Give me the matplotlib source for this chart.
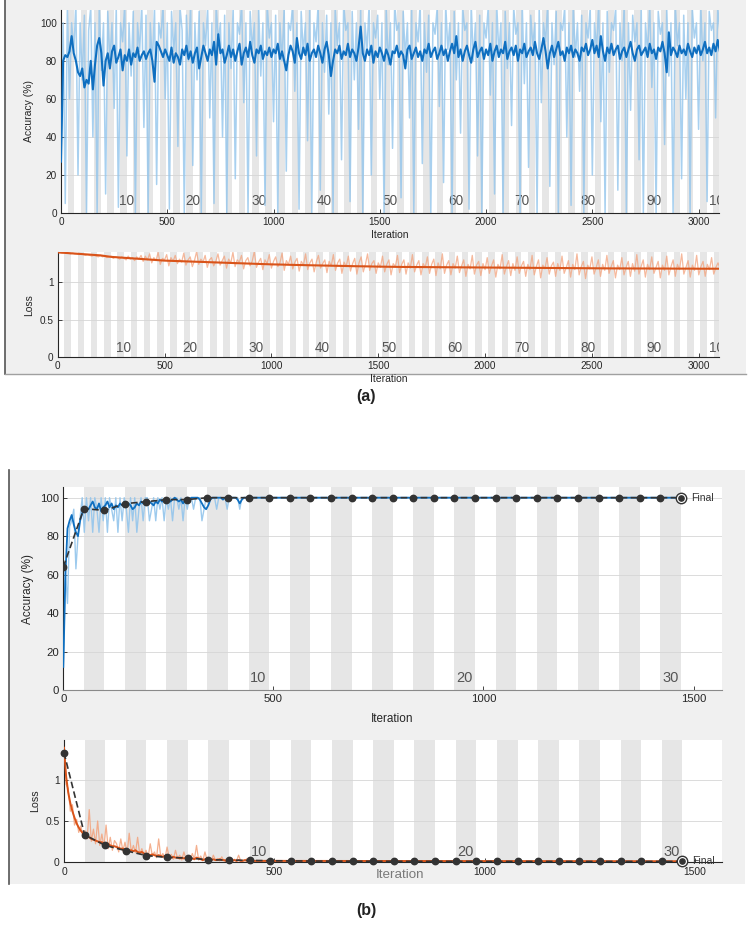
import numpy as np
import matplotlib
matplotlib.use('Agg')
import matplotlib.pyplot as plt
import matplotlib.transforms as mtransforms
from matplotlib.patches import Rectangle
from matplotlib.lines import Line2D

plt.rcParams['font.family'] = ['Liberation Sans', 'DejaVu Sans']

W, H = 749, 925

# ---- panel (a): 100 epochs, 31 iterations each, values every 10 iterations
iter_a = np.arange(0, 3101, 10)

acc_a_smooth = [
    27, 80, 83, 82, 85, 93, 84, 80, 74, 72, 76, 66, 70, 68, 80, 65, 78, 88, 92, 84,
    67, 80, 84, 76, 85, 88, 79, 82, 86, 75, 83, 80, 86, 78, 84, 82, 87, 80, 83, 85,
    81, 84, 86, 80, 69, 90, 88, 85, 82, 86, 83, 80, 87, 79, 84, 82, 78, 86, 83, 88,
    81, 85, 79, 84, 87, 76, 82, 88, 84, 80, 86, 83, 90, 78, 94, 84, 86, 79, 83, 88,
    82, 86, 80, 85, 89, 78, 84, 87, 82, 90, 83, 79, 86, 84, 88, 81, 85, 83, 87, 82,
    86, 84, 89, 81, 85, 80, 75, 83, 88, 85, 79, 92, 84, 81, 87, 83, 89, 80, 84, 86,
    82, 88, 84, 79, 86, 90, 83, 72, 80, 86, 84, 88, 81, 85, 83, 89, 82, 86, 84, 80,
    87, 98, 84, 80, 86, 83, 88, 79, 85, 82, 87, 84, 80, 86, 83, 78, 85, 84, 88, 82,
    85, 83, 76, 86, 88, 81, 84, 87, 82, 85, 80, 86, 84, 89, 82, 85, 87, 81, 84, 88,
    83, 86, 80, 85, 89, 84, 93, 82, 86, 80, 85, 88, 83, 79, 86, 90, 82, 85, 87, 81,
    86, 83, 89, 80, 85, 88, 82, 86, 84, 90, 81, 85, 87, 83, 88, 80, 86, 84, 89, 82,
    85, 87, 83, 90, 84, 81, 86, 92, 85, 76, 84, 88, 82, 86, 90, 83, 85, 80, 87, 84,
    88, 82, 86, 84, 80, 87, 85, 89, 83, 86, 91, 84, 88, 82, 93, 85, 80, 87, 84, 89,
    83, 86, 88, 81, 85, 87, 82, 86, 90, 84, 80, 86, 88, 83, 85, 87, 82, 89, 84, 86,
    81, 87, 85, 90, 84, 74, 95, 83, 87, 85, 82, 88, 84, 86, 83, 89, 85, 82, 87, 84,
    88, 83, 86, 90, 84, 87, 83, 89, 85, 91, 85,
]

acc_a_raw = [
    27, 100, 5, 108, 60, 100, 85, 110, 20, 100, 70, 104, 0, 96, 108, 40, 100, 0, 110, 75,
    100, 10, 106, 80, 100, 55, 108, 3, 100, 90, 110, 30, 100, 72, 106, 0, 100, 85, 110, 45,
    104, 0, 100, 78, 108, 15, 100, 92, 110, 60, 100, 2, 106, 85, 100, 35, 108, 96, 0, 104,
    80, 110, 25, 100, 70, 106, 0, 100, 88, 108, 50, 100, 5, 110, 90, 100, 40, 104, 0, 100,
    76, 108, 18, 100, 94, 110, 58, 100, 0, 106, 86, 100, 30, 108, 72, 100, 4, 110, 92, 100,
    48, 104, 0, 100, 80, 108, 22, 100, 96, 110, 64, 100, 2, 106, 84, 100, 38, 108, 0, 100,
    90, 110, 12, 100, 74, 104, 52, 100, 0, 108, 88, 100, 28, 110, 96, 100, 6, 106, 70, 100,
    44, 108, 0, 100, 86, 110, 20, 100, 92, 104, 60, 100, 0, 108, 78, 100, 34, 110, 96, 100,
    8, 106, 82, 100, 50, 108, 0, 100, 90, 110, 26, 100, 74, 104, 0, 100, 94, 108, 56, 100,
    16, 110, 86, 100, 0, 106, 70, 100, 42, 108, 96, 100, 2, 110, 80, 100, 30, 104, 0, 100,
    92, 108, 62, 100, 10, 110, 84, 100, 0, 106, 76, 100, 46, 108, 94, 100, 0, 110, 68, 100,
    24, 104, 88, 100, 0, 108, 58, 100, 90, 110, 14, 100, 78, 106, 0, 100, 96, 108, 40, 100,
    4, 110, 82, 100, 64, 104, 0, 100, 92, 108, 20, 100, 86, 110, 48, 100, 0, 106, 74, 100,
    96, 108, 12, 100, 80, 110, 0, 100, 54, 104, 90, 100, 28, 108, 0, 100, 84, 110, 66, 100,
    0, 106, 94, 100, 36, 108, 72, 100, 0, 110, 88, 100, 18, 104, 60, 100, 0, 108, 92, 100,
    44, 110, 80, 100, 6, 106, 96, 100, 50, 108, 96,
]

iter_a_loss = np.arange(0, 3101, 50)
loss_a_smooth = [
    1.40, 1.39, 1.38, 1.37, 1.36, 1.34, 1.33, 1.32, 1.31, 1.30,
    1.29, 1.285, 1.28, 1.275, 1.27, 1.265, 1.26, 1.255, 1.25, 1.245,
    1.24, 1.237, 1.233, 1.23, 1.227, 1.224, 1.221, 1.218, 1.215, 1.213,
    1.21, 1.208, 1.206, 1.205, 1.204, 1.203, 1.202, 1.201, 1.200, 1.199,
    1.198, 1.197, 1.196, 1.195, 1.194, 1.193, 1.192, 1.191, 1.190, 1.189,
    1.188, 1.187, 1.186, 1.186, 1.185, 1.185, 1.184, 1.184, 1.183, 1.183,
    1.182, 1.182, 1.182,
]

loss_a_raw = [
    1.40, 1.40, 1.39, 1.40, 1.39, 1.39, 1.38, 1.39, 1.38, 1.38, 1.37, 1.38, 1.37, 1.36, 1.37, 1.36, 1.35, 1.36, 1.35, 1.34,
    1.36, 1.34, 1.35, 1.33, 1.34, 1.35, 1.32, 1.34, 1.33, 1.31, 1.34, 1.32, 1.30, 1.35, 1.31, 1.33, 1.29, 1.34, 1.31, 1.36,
    1.28, 1.35, 1.30, 1.38, 1.26, 1.33, 1.29, 1.40, 1.24, 1.32, 1.30, 1.37, 1.22, 1.33, 1.28, 1.36, 1.25, 1.31, 1.27, 1.39,
    1.23, 1.30, 1.34, 1.21, 1.29, 1.41, 1.24, 1.31, 1.27, 1.36, 1.20, 1.30, 1.33, 1.22, 1.28, 1.38, 1.23, 1.29, 1.35, 1.19,
    1.31, 1.26, 1.40, 1.21, 1.30, 1.27, 1.36, 1.18, 1.29, 1.33, 1.22, 1.28, 1.41, 1.20, 1.27, 1.32, 1.17, 1.30, 1.25, 1.37,
    1.19, 1.28, 1.34, 1.21, 1.26, 1.39, 1.16, 1.29, 1.24, 1.35, 1.18, 1.27, 1.32, 1.15, 1.28, 1.23, 1.38, 1.17, 1.26, 1.31,
    1.14, 1.27, 1.36, 1.19, 1.25, 1.30, 1.13, 1.28, 1.22, 1.37, 1.16, 1.26, 1.31, 1.12, 1.27, 1.21, 1.35, 1.15, 1.25, 1.32,
    1.11, 1.26, 1.34, 1.14, 1.24, 1.38, 1.16, 1.25, 1.29, 1.12, 1.26, 1.20, 1.35, 1.14, 1.24, 1.30, 1.10, 1.25, 1.21, 1.36,
    1.13, 1.24, 1.30, 1.11, 1.26, 1.19, 1.37, 1.14, 1.23, 1.29, 1.10, 1.25, 1.20, 1.34, 1.12, 1.24, 1.31, 1.09, 1.26, 1.18,
    1.38, 1.12, 1.23, 1.29, 1.10, 1.25, 1.19, 1.35, 1.13, 1.22, 1.30, 1.08, 1.24, 1.18, 1.36, 1.11, 1.23, 1.28, 1.09, 1.25,
    1.17, 1.33, 1.12, 1.22, 1.30, 1.07, 1.24, 1.18, 1.37, 1.11, 1.21, 1.29, 1.09, 1.25, 1.16, 1.34, 1.12, 1.22, 1.28, 1.08,
    1.24, 1.17, 1.36, 1.10, 1.21, 1.30, 1.06, 1.23, 1.18, 1.33, 1.11, 1.22, 1.27, 1.08, 1.25, 1.16, 1.35, 1.12, 1.20, 1.29,
    1.07, 1.24, 1.17, 1.38, 1.10, 1.21, 1.28, 1.05, 1.23, 1.18, 1.34, 1.11, 1.20, 1.30, 1.08, 1.24, 1.16, 1.36, 1.12, 1.21,
    1.29, 1.06, 1.23, 1.17, 1.33, 1.10, 1.20, 1.28, 1.08, 1.25, 1.15, 1.37, 1.11, 1.21, 1.30, 1.07, 1.24, 1.17, 1.34, 1.12,
    1.20, 1.28, 1.06, 1.23, 1.16, 1.35, 1.10, 1.21, 1.30, 1.08, 1.24, 1.17, 1.38, 1.11, 1.20, 1.29, 1.07, 1.23, 1.16, 1.36,
    1.10, 1.21, 1.28, 1.08, 1.24, 1.17, 1.33, 1.11, 1.20, 1.26, 1.18,
]

# ---- panel (b): 30 epochs, 49 iterations each
iter_b = np.r_[np.arange(0, 451, 5), [500, 1470]]

acc_b_smooth = [
    12, 60, 84, 88, 91, 86, 82, 80, 88, 92,
    95, 94, 94, 96, 98, 95, 94, 97, 93, 95,
    96, 98, 95, 97, 94, 96, 95, 97, 96, 97,
    95, 97, 96, 94, 95, 97, 96, 98, 97, 98,
    99, 98, 97, 96, 98, 97, 99, 98, 99, 98,
    99, 98, 99, 100, 99, 98, 99, 97, 99, 100,
    99, 100, 100, 100, 100, 99, 97, 95, 94, 96,
    99, 100, 100, 100, 100, 100, 99, 100, 100, 100,
    100, 100, 100, 99, 97, 99, 100, 100, 100, 100, 100,
    100, 100,
]

acc_b_raw = [
    12, 62, 45, 85, 88, 94, 63, 80, 90, 100,
    82, 100, 88, 100, 82, 100, 94, 82, 100, 88,
    100, 82, 100, 94, 88, 100, 82, 100, 88, 100,
    94, 82, 100, 88, 100, 82, 94, 100, 88, 100,
    100, 88, 94, 100, 88, 100, 94, 100, 88, 100,
    94, 100, 88, 100, 100, 94, 100, 88, 100, 94,
    100, 100, 94, 100, 100, 100, 88, 94, 100, 100,
    100, 100, 100, 94, 100, 100, 100, 100, 94, 100,
    100, 100, 100, 100, 94, 100, 100, 100, 100, 100, 100,
    100, 100,
]

loss_b_smooth = [
    1.40, 1.05, 0.85, 0.72, 0.62, 0.54, 0.47, 0.42, 0.38, 0.35,
    0.33, 0.31, 0.30, 0.28, 0.27, 0.26, 0.25, 0.24, 0.24, 0.22,
    0.21, 0.22, 0.20, 0.19, 0.19, 0.18, 0.17, 0.16, 0.16, 0.15,
    0.15, 0.14, 0.14, 0.13, 0.14, 0.12, 0.11, 0.12, 0.10, 0.09,
    0.09, 0.08, 0.09, 0.08, 0.07, 0.08, 0.07, 0.06, 0.07, 0.06,
    0.06, 0.05, 0.06, 0.05, 0.05, 0.04, 0.05, 0.04, 0.05, 0.04,
    0.03, 0.04, 0.03, 0.05, 0.04, 0.03, 0.02, 0.03, 0.04, 0.03,
    0.02, 0.03, 0.02, 0.02, 0.03, 0.02, 0.02, 0.01, 0.02, 0.02,
    0.01, 0.02, 0.01, 0.02, 0.01, 0.01, 0.02, 0.01, 0.01, 0.01, 0.01,
    0.01, 0.005,
]

loss_b_raw = [
    1.42, 0.95, 0.90, 0.62, 0.70, 0.45, 0.52, 0.36, 0.44, 0.30,
    0.38, 0.28, 0.64, 0.25, 0.40, 0.22, 0.50, 0.20, 0.34, 0.18,
    0.45, 0.16, 0.30, 0.14, 0.26, 0.22, 0.12, 0.28, 0.13, 0.24,
    0.10, 0.35, 0.12, 0.20, 0.11, 0.30, 0.09, 0.16, 0.08, 0.14,
    0.06, 0.22, 0.07, 0.12, 0.05, 0.28, 0.06, 0.10, 0.04, 0.18,
    0.05, 0.09, 0.03, 0.14, 0.04, 0.08, 0.02, 0.12, 0.03, 0.06,
    0.02, 0.10, 0.03, 0.20, 0.02, 0.07, 0.01, 0.12, 0.02, 0.05,
    0.01, 0.08, 0.02, 0.04, 0.01, 0.06, 0.01, 0.03, 0.01, 0.05,
    0.01, 0.03, 0.01, 0.08, 0.01, 0.02, 0.01, 0.04, 0.01, 0.02, 0.01,
    0.01, 0.005,
]

val_iter = np.arange(0, 1471, 49)
val_acc = [64, 94.3, 93.4, 96.9, 97.9, 99, 99, 100, 100, 100,
           100, 100, 100, 100, 100, 100, 100, 100, 100, 100,
           100, 100, 100, 100, 100, 100, 100, 100, 100, 100, 100]
val_loss = [1.34, 0.33, 0.20, 0.135, 0.075, 0.053, 0.045, 0.025, 0.02, 0.016,
            0.012, 0.010, 0.008, 0.007, 0.006, 0.005, 0.005, 0.004, 0.004, 0.004,
            0.003, 0.003, 0.003, 0.003, 0.003, 0.003, 0.003, 0.003, 0.003, 0.003, 0.003]

BLUE, LBLUE = '#0f6fc0', '#93c5ec'
ORANGE, LORANGE = '#d95319', '#f3a27c'
DARK = '#333333'


def px_rect(l, t, r, b):
    return [l / W, 1 - b / H, (r - l) / W, (b - t) / H]


def panel_bg(fig, l, t, r, b):
    fig.add_artist(Rectangle((l / W, 1 - b / H), (r - l) / W, (b - t) / H,
                             transform=fig.transFigure, fc='#f0f0f0', ec='none', zorder=-5))
    fig.add_artist(Line2D([l / W, l / W], [1 - b / H, 1 - t / H], transform=fig.transFigure,
                          color='#555555', lw=1.2, zorder=-4))


def make_axes(fig, rect, xlim, ylim, xticks, yticks, ylabels, ylabel, ep_len, n_ep,
              ep_labels, ep_ha, fs, efs, xlabel=True):
    ax = fig.add_axes(rect)
    ax.set_xlim(*xlim)
    ax.set_ylim(*ylim)
    for e in range(1, n_ep, 2):
        ax.axvspan(e * ep_len, (e + 1) * ep_len, color='#e6e6e6', lw=0, zorder=0)
    ax.set_axisbelow(True)
    ax.yaxis.grid(True, color='#d6d6d6', lw=0.6)
    ax.set_xticks(xticks)
    ax.set_yticks(yticks)
    ax.set_yticklabels(ylabels)
    for s in ('top', 'right'):
        ax.spines[s].set_visible(False)
    for s in ('left', 'bottom'):
        ax.spines[s].set_color('#262626')
        ax.spines[s].set_linewidth(0.8)
    ax.tick_params(direction='in', length=3, width=0.6, colors='#262626',
                   labelsize=fs, pad=3)
    ax.set_ylabel(ylabel, fontsize=fs + 0.3, color='#262626', labelpad=4)
    if xlabel:
        ax.set_xlabel('Iteration', fontsize=fs + 0.3, color='#262626', labelpad=2)
    trans = mtransforms.blended_transform_factory(ax.transData, ax.transAxes)
    for e in ep_labels:
        x = e * ep_len if ep_ha == 'center' else e * ep_len - ep_len * 0.12
        ax.text(x, 0.025, str(e), transform=trans, ha=ep_ha, va='bottom',
                fontsize=efs, color='#555555', clip_on=True, zorder=1)
    return ax


fig = plt.figure(figsize=(W / 100, H / 100), dpi=100)
fig.patch.set_facecolor('white')

panel_bg(fig, 5, 0, 746, 374)
fig.add_artist(Line2D([5 / W, 746 / W], [1 - 374 / H] * 2, transform=fig.transFigure,
                      color='#a0a0a0', lw=1, zorder=-4))
panel_bg(fig, 9, 470, 745, 884)

ep_a = list(range(10, 101, 10))

ax1 = make_axes(fig, px_rect(61, 9.5, 719, 213), (0, 3096), (0, 107),
                np.arange(0, 3001, 500), np.arange(0, 101, 20),
                [str(v) for v in range(0, 101, 20)], 'Accuracy (%)', 31, 100,
                ep_a, 'center', 7.2, 9.8)
ax1.plot(iter_a, acc_a_raw, color=LBLUE, lw=1.1, alpha=0.8, zorder=2)
ax1.plot(iter_a, acc_a_smooth, color=BLUE, lw=1.5, zorder=3)

ax2 = make_axes(fig, px_rect(57.7, 252, 719.3, 357.3), (0, 3096), (0, 1.405),
                np.arange(0, 3001, 500), [0, 0.5, 1], ['0', '0.5', '1'], 'Loss', 31, 100,
                ep_a, 'center', 7.2, 9.8)
ax2.plot(iter_a, loss_a_raw, color=LORANGE, lw=0.9, alpha=0.75, zorder=2)
ax2.plot(iter_a_loss, loss_a_smooth, color=ORANGE, lw=1.5, zorder=3)

ep_b = [10, 20, 30]

ax3 = make_axes(fig, px_rect(63.3, 487.3, 721.7, 690), (0, 1567), (0, 105.4),
                np.arange(0, 1501, 500), np.arange(0, 101, 20),
                [str(v) for v in range(0, 101, 20)], 'Accuracy (%)', 49, 30,
                ep_b, 'right', 8.2, 10.5)
ax3.spines['bottom'].set_color('#8a8a8a')
ax3.xaxis.labelpad = 6
ax3.plot(iter_b, acc_b_raw, color=LBLUE, lw=1.0, alpha=0.9, zorder=2)
ax3.plot(iter_b, acc_b_smooth, color=BLUE, lw=1.3, zorder=3)
ax3.plot(val_iter, val_acc, color=DARK, lw=1.2, dashes=(4, 2), zorder=4)
ax3.plot(val_iter, val_acc, 'o', color=DARK, ms=4.6, zorder=5)
ax3.plot(val_iter[-1], val_acc[-1], 'o', mfc='white', mec=DARK, mew=1.0, ms=7.5, zorder=5)
ax3.plot(val_iter[-1], val_acc[-1], 'o', color=DARK, ms=3.8, zorder=6)
ax3.annotate('Final', (val_iter[-1], val_acc[-1]), xytext=(7, 0), textcoords='offset points',
             ha='left', va='center', fontsize=7.5, color=DARK)

ax4 = make_axes(fig, px_rect(64, 740, 722, 861.7), (0, 1564), (0, 1.495),
                np.arange(0, 1501, 500), [0, 0.5, 1], ['0', '0.5', '1'], 'Loss', 49, 30,
                ep_b, 'right', 7.4, 10.5, xlabel=False)
ax4.tick_params(axis='x', pad=4)
ax4.plot(iter_b, loss_b_raw, color=LORANGE, lw=0.9, alpha=0.85, zorder=2)
ax4.plot(iter_b, loss_b_smooth, color=ORANGE, lw=1.4, zorder=3)
ax4.plot(val_iter, val_loss, color=DARK, lw=1.2, dashes=(4, 2), zorder=4)
ax4.plot(val_iter, val_loss, 'o', color=DARK, ms=4.6, zorder=5, clip_on=False)
ax4.plot(val_iter[-1], val_loss[-1], 'o', mfc='white', mec=DARK, mew=1.0, ms=7.5,
         zorder=5, clip_on=False)
ax4.plot(val_iter[-1], val_loss[-1], 'o', color=DARK, ms=3.8, zorder=6, clip_on=False)
ax4.annotate('Final', (val_iter[-1], val_loss[-1]), xytext=(7, 0), textcoords='offset points',
             ha='left', va='center', fontsize=7.5, color=DARK)
fig.text(400 / W, 1 - 875 / H, 'Iteration', ha='center', va='center',
         fontsize=9.6, color='#7a7a7a')

fig.text(366 / W, 1 - 396 / H, '(a)', ha='center', va='center', fontsize=11.5,
         fontweight='bold', color='#222222')
fig.text(366 / W, 1 - 910 / H, '(b)', ha='center', va='center', fontsize=11.5,
         fontweight='bold', color='#222222')

fig.savefig('out.png', dpi=100, facecolor=fig.get_facecolor())
